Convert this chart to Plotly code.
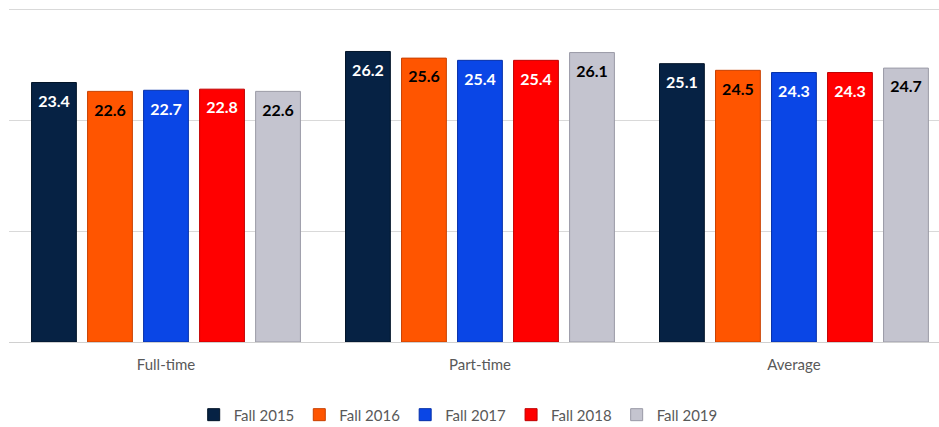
import plotly.graph_objects as go

categories = ["Full-time", "Part-time", "Average"]
series_names = ["Fall 2015", "Fall 2016", "Fall 2017", "Fall 2018", "Fall 2019"]
fall_2015 = [23.4, 26.2, 25.1]
fall_2016 = [22.6, 25.6, 24.5]
fall_2017 = [22.7, 25.4, 24.3]
fall_2018 = [22.8, 25.4, 24.3]
fall_2019 = [22.6, 26.1, 24.7]

series_values = [fall_2015, fall_2016, fall_2017, fall_2018, fall_2019]
colors = ["#062244", "#ff5500", "#0a46e6", "#ff0000", "#c4c4cf"]
edge_colors = ["#021428", "#c84000", "#0630a8", "#c00000", "#9a9aa6"]
text_colors = ["white", "black", "white", "white", "black"]

fig = go.Figure()
for i, (name, vals, c, ec) in enumerate(zip(series_names, series_values, colors, edge_colors)):
    fig.add_trace(go.Bar(
        x=categories, y=vals, name=name,
        marker=dict(color=c, line=dict(color=ec, width=1)),
        offsetgroup=str(i), alignmentgroup="a",
    ))
for i, (name, vals, tc) in enumerate(zip(series_names, series_values, text_colors)):
    fig.add_trace(go.Scatter(
        x=categories, y=vals, mode="markers+text", showlegend=False,
        text=[f"{v:.1f}" for v in vals],
        textposition="bottom center",
        marker=dict(size=18, opacity=0),
        textfont=dict(family="Lato, Open Sans, sans-serif", size=16, color=tc, weight="bold"),
        offsetgroup=str(i), alignmentgroup="a",
        hoverinfo="skip",
    ))

fig.update_layout(
    width=939, height=427,
    margin=dict(l=9, r=0, t=6, b=85, autoexpand=False),
    paper_bgcolor="white", plot_bgcolor="white",
    barmode="group", bargap=0.108, bargroupgap=0.2,
    scattermode="group", scattergap=0.108,
    font=dict(family="Lato, Open Sans, sans-serif", color="#595959", size=14),
    xaxis=dict(range=[-0.5, 2.462], showgrid=False, ticks="", showline=True,
               linecolor="#d0d0d0", linewidth=1, automargin=False,
               ticklabelstandoff=9,
               tickfont=dict(size=15, color="#595959")),
    yaxis=dict(range=[0, 30.3], tickvals=[10, 20, 30], showticklabels=False,
               gridcolor="#d9d9d9", gridwidth=1, zeroline=False, showline=False,
               automargin=False),
    legend=dict(orientation="h", x=0.483, xanchor="center", y=-0.217, yanchor="middle",
                font=dict(size=15, color="#595959"), itemwidth=30,
                traceorder="normal"),
    showlegend=True,
)

fig.write_html("out.html", config={"displayModeBar": False},
               post_script="document.body.style.margin='0';document.body.style.overflow='hidden';")
